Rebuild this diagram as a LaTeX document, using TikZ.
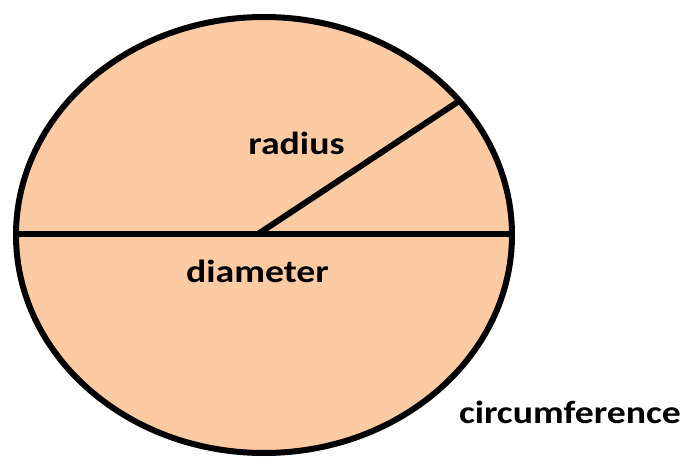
\documentclass[tikz,border=0pt]{standalone}
\usepackage{fontspec}
\setmainfont{Carlito}
\usetikzlibrary{calc}
\definecolor{peach}{RGB}{252,203,164}
\begin{document}
\begin{tikzpicture}[x=1pt,y=-1pt,
  outline/.style={line width=6pt,draw=black},
  lbl/.style={font=\bfseries\fontsize{32}{32}\selectfont,inner sep=0pt,anchor=base,xscale=1.18,transform shape}]
\useasboundingbox (0,0) rectangle (683,457);
\coordinate (ctr) at (264,235);
\filldraw[outline,fill=peach] (ctr) ellipse [x radius=248, y radius=218];
\coordinate (L) at (16,234);
\coordinate (R) at (512,234);
\coordinate (O) at (258,234);
\coordinate (P) at ($(ctr)+(38:248 and -218)$);
\draw[outline] (L) -- (R);
\draw[outline] (O) -- (P);
\node[lbl] (radius) at (296.5,155) {radius};
\node[lbl] (diam) at (257.5,283) {diameter};
\node[lbl] (circ) at (570,423) {circumference};
\end{tikzpicture}
\end{document}
